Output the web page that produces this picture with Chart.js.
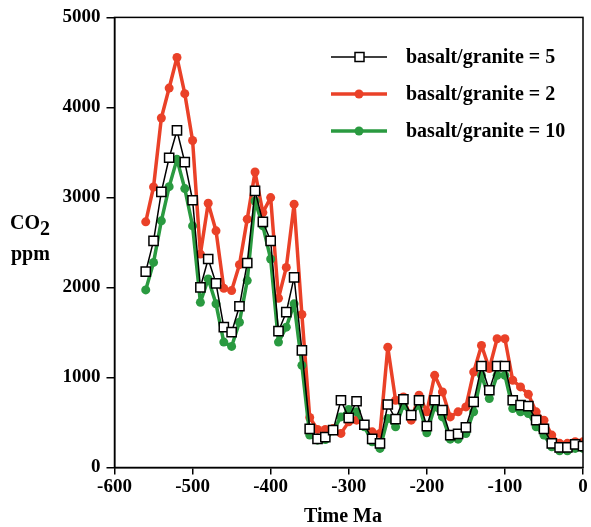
<!DOCTYPE html>
<html>
<head>
<meta charset="utf-8">
<script src="https://cdn.jsdelivr.net/npm/chart.js@4.4.0/dist/chart.umd.min.js"></script>
<style>
  html, body { margin: 0; padding: 0; background: #fff; }
  #wrap { width: 591px; height: 527px; }
</style>
</head>
<body>
<div id="wrap"><canvas id="co2-chart" width="591" height="527"></canvas></div>
<script>
// time in Ma, one sample every 10 Ma
const times = [
    -560, -550, -540, -530, -520, -510, -500, -490, -480, -470, -460, -450, -440, -430, -420,
    -410, -400, -390, -380, -370, -360, -350, -340, -330, -320, -310, -300, -290, -280, -270,
    -260, -250, -240, -230, -220, -210, -200, -190, -180, -170, -160, -150, -140,
    -130, -120, -110, -100, -90, -80, -70, -60, -50, -40, -30, -20, -10, 0
]

// basalt/granite = 5
const ratio5 = [
    2175, 2518, 3061, 3441, 3744, 3393, 2969, 2002, 2316, 2046, 1559, 1503, 1791, 2272, 3072,
    2729, 2518, 1514, 1725, 2112, 1301, 430, 319, 338, 415, 747, 551, 736, 475, 317,
    268, 700, 537, 758, 581, 747, 459, 747, 637, 360, 374, 445, 728,
    1127, 858, 1127, 1127, 747, 692, 681, 526, 430, 268, 223, 223, 257, 238
]

// basalt/granite = 2
const ratio2 = [
    2729, 3116, 3883, 4215, 4555, 4153, 3633, 2371, 2936, 2629, 1990, 1965, 2253, 2759, 3282,
    2832, 2998, 1880, 2223, 2925, 1699, 556, 423, 423, 434, 379, 507, 526, 470, 396,
    378, 1337, 747, 784, 526, 803, 618, 1024, 839, 562, 618, 673, 1060,
    1356, 1100, 1430, 1430, 969, 895, 813, 618, 526, 360, 268, 268, 286, 286
]

// basalt/granite = 10
const ratio10 = [
    1973, 2278, 2740, 3120, 3423, 3098, 2684, 1835, 2094, 1818, 1393, 1345, 1614, 2076, 2961,
    2684, 2316, 1393, 1559, 1818, 1135, 360, 304, 310, 407, 562, 644, 618, 452, 286,
    212, 545, 452, 692, 581, 692, 385, 673, 562, 315, 315, 378, 618,
    1024, 766, 1024, 1024, 655, 618, 600, 452, 360, 231, 186, 186, 212, 212
]

const xTicks = [-600, -500, -400, -300, -200, -100, 0]
const yTicks = [0, 1000, 2000, 3000, 4000, 5000]

const RED = '#ea4128'
const GREEN = '#2a9a40'
const FONT = "'Liberation Serif', 'DejaVu Serif', serif"

function toPoints(values) {
    return times.map((t, i) => ({ x: t, y: values[i] }))
}

// box round the plot, axis titles and the legend
const decorations = {
    id: 'decorations',
    afterDraw(chart) {
        const ctx = chart.ctx
        const a = chart.chartArea
        ctx.save()
        ctx.strokeStyle = '#000'
        ctx.lineWidth = 1.5
        ctx.strokeRect(a.left, a.top, a.right - a.left, a.bottom - a.top)

        ctx.fillStyle = '#000'
        ctx.textBaseline = 'alphabetic'
        ctx.textAlign = 'left'
        ctx.font = 'bold 20px ' + FONT
        ctx.fillText('CO', 10, 229)
        const coW = ctx.measureText('CO').width
        ctx.fillText('2', 10 + coW, 235)
        ctx.fillText('ppm', 11, 260)

        ctx.textAlign = 'center'
        ctx.fillText('Time Ma', 343, 522)

        // legend
        const rows = [
            { label: 'basalt/granite = 5', color: '#000', width: 1.5, square: true },
            { label: 'basalt/granite = 2', color: RED, width: 3.5 },
            { label: 'basalt/granite = 10', color: GREEN, width: 3.5 }
        ]
        rows.forEach((r, i) => {
            const y = 57 + i * 37
            ctx.strokeStyle = r.color
            ctx.lineWidth = r.width
            ctx.beginPath()
            ctx.moveTo(331, y)
            ctx.lineTo(387, y)
            ctx.stroke()
            if (r.square) {
                ctx.fillStyle = '#fff'
                ctx.fillRect(355, y - 4.5, 9, 9)
                ctx.lineWidth = 1.5
                ctx.strokeRect(355, y - 4.5, 9, 9)
            } else {
                ctx.fillStyle = r.color
                ctx.beginPath()
                ctx.arc(359, y, 4.5, 0, Math.PI * 2)
                ctx.fill()
            }
            ctx.fillStyle = '#000'
            ctx.textAlign = 'left'
            ctx.textBaseline = 'middle'
            ctx.fillText(r.label, 406, y + 1)
        })
        ctx.restore()
    }
}

new Chart(document.querySelector('#co2-chart').getContext('2d'), {
    type: 'line',
    data: {
        datasets: [
            {
                label: 'basalt/granite = 5',
                data: toPoints(ratio5),
                borderColor: '#000',
                borderWidth: 1.5,
                borderJoinStyle: 'round',
                pointStyle: 'rect',
                pointRadius: 6.5,
                pointBorderWidth: 1.5,
                pointBorderColor: '#000',
                pointBackgroundColor: '#fff',
                order: 0
            },
            {
                label: 'basalt/granite = 2',
                data: toPoints(ratio2),
                borderColor: RED,
                borderWidth: 3.5,
                borderJoinStyle: 'round',
                pointRadius: 4.5,
                pointBorderWidth: 0,
                pointBackgroundColor: RED,
                order: 2
            },
            {
                label: 'basalt/granite = 10',
                data: toPoints(ratio10),
                borderColor: GREEN,
                borderWidth: 3.5,
                borderJoinStyle: 'round',
                pointRadius: 4.5,
                pointBorderWidth: 0,
                pointBackgroundColor: GREEN,
                order: 1
            }
        ]
    },
    options: {
        responsive: false,
        animation: false,
        events: [],
        layout: { padding: { top: 16, right: 3.5, left: 0, bottom: 0 } },
        plugins: {
            legend: { display: false },
            tooltip: { enabled: false }
        },
        scales: {
            x: {
                type: 'linear',
                min: -600,
                max: 0,
                afterFit: scale => { scale.height = 59.5 },
                afterBuildTicks: scale => { scale.ticks = xTicks.map(v => ({ value: v })) },
                grid: { drawOnChartArea: false, drawTicks: true, tickLength: 7, color: '#000', lineWidth: 1.5 },
                border: { display: true, color: '#000', width: 1.5 },
                ticks: {
                    color: '#000',
                    padding: 1,
                    maxRotation: 0,
                    font: { family: FONT, size: 19, weight: 'bold' },
                    callback: v => String(v)
                }
            },
            y: {
                min: 0,
                max: 5000,
                afterFit: scale => { scale.width = 114.5 },
                afterBuildTicks: scale => { scale.ticks = yTicks.map(v => ({ value: v })) },
                grid: { drawOnChartArea: false, drawTicks: true, tickLength: 8, color: '#000', lineWidth: 1.5 },
                border: { display: true, color: '#000', width: 1.5 },
                ticks: {
                    color: '#000',
                    padding: 6,
                    font: { family: FONT, size: 19, weight: 'bold' },
                    callback: v => String(v)
                }
            }
        }
    },
    plugins: [decorations]
})
</script>
</body>
</html>
